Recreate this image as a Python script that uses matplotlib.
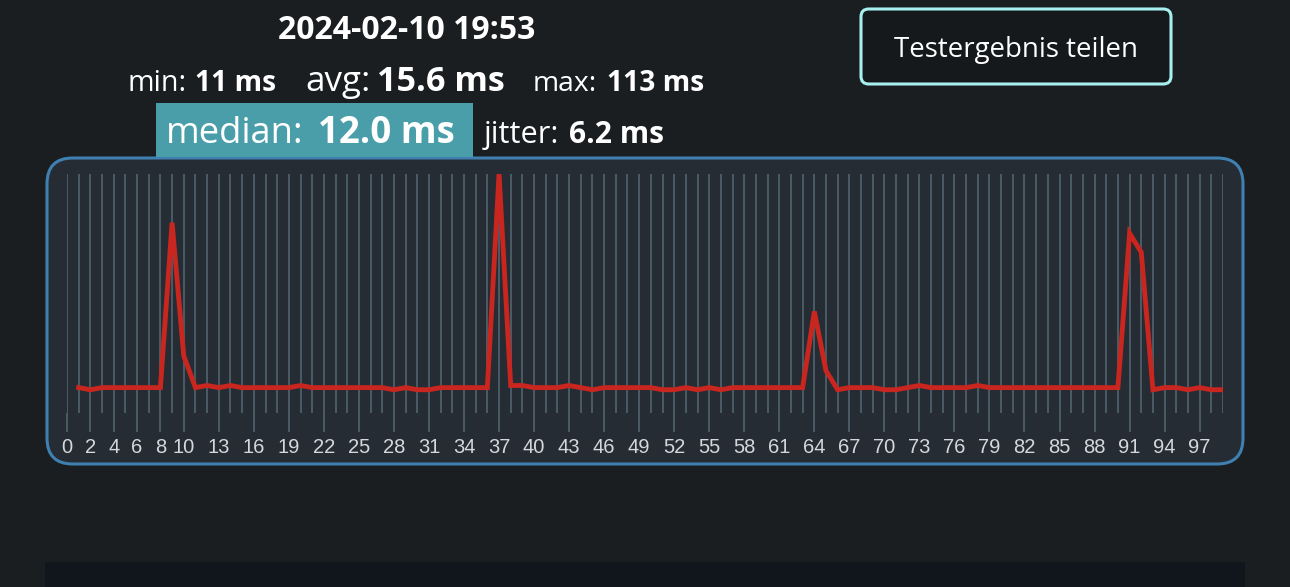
import matplotlib
matplotlib.use("Agg")
import matplotlib.pyplot as plt
from matplotlib.patches import FancyBboxPatch, Rectangle

# ---- data ----
ping_index = list(range(1, 100))
ping_ms = [12, 11, 12, 12, 12, 12, 12, 12, 90, 27,
           12, 13, 12, 13, 12, 12, 12, 12, 12, 13,
           12, 12, 12, 12, 12, 12, 12, 11, 12, 11,
           11, 12, 12, 12, 12, 12, 113, 13, 13, 12,
           12, 12, 13, 12, 11, 12, 12, 12, 12, 12,
           11, 11, 12, 11, 12, 11, 12, 12, 12, 12,
           12, 12, 12, 48, 20, 11, 12, 12, 12, 11,
           11, 12, 13, 12, 12, 12, 12, 13, 12, 12,
           12, 12, 12, 12, 12, 12, 12, 12, 12, 12,
           85, 76, 11, 12, 12, 11, 12, 11, 11]
tick_positions = [0, 2, 4, 6, 8, 10, 13, 16, 19, 22, 25, 28, 31, 34, 37, 40,
                  43, 46, 49, 52, 55, 58, 61, 64, 67, 70, 73, 76, 79, 82, 85,
                  88, 91, 94, 97]
tick_labels = [str(t) for t in tick_positions]
date_text = "2024-02-10 19:53"
stat_min, stat_avg, stat_max = "11 ms", "15.6 ms", "113 ms"
stat_median, stat_jitter = "12.0 ms", "6.2 ms"
button_text = "Testergebnis teilen"

W, H = 1290, 587
BG = "#1a1e21"
fig = plt.figure(figsize=(W / 100, H / 100), dpi=100)
fig.patch.set_facecolor(BG)
renderer = fig.canvas.get_renderer()

def px(x, y):
    return x / W, 1 - y / H

FONT = "Open Sans"

# bottom dark panel
fig.patches.append(Rectangle(px(45, 587), 1200 / W, 25 / H, transform=fig.transFigure,
                             facecolor="#10161c", edgecolor="none", zorder=-2))

# chart panel
fig.patches.append(FancyBboxPatch(px(47, 464), 1196 / W, 306 / H,
                                  boxstyle="round,pad=0,rounding_size=0.02",
                                  transform=fig.transFigure, mutation_aspect=W / H,
                                  facecolor="#252c34", edgecolor="#3f80b0",
                                  linewidth=2.2, zorder=-2))

# median box
fig.patches.append(Rectangle(px(156, 157), 317 / W, 54 / H, transform=fig.transFigure,
                             facecolor="#4a9eaa", edgecolor="none", zorder=-2))

# button
fig.patches.append(FancyBboxPatch(px(861, 84), 310 / W, 75 / H,
                                  boxstyle="round,pad=0,rounding_size=0.006",
                                  transform=fig.transFigure, mutation_aspect=W / H,
                                  facecolor="#15191c", edgecolor="#a8f0f0",
                                  linewidth=2.2, zorder=-2))


def fitted(x0, x1, y, s, bold=False, ha="left", va="baseline"):
    """Text whose rendered width spans x0..x1 pixels."""
    t = fig.text(0, 0, s, color="white", fontsize=20, family=FONT,
                 fontweight="bold" if bold else "normal", ha="left", va=va)
    w = t.get_window_extent(renderer).width
    t.set_fontsize(20 * (x1 - x0) / w)
    if ha == "center":
        t.set_ha("center")
        t.set_position(px((x0 + x1) / 2, y))
    else:
        t.set_position(px(x0, y))
    return t

fitted(895, 1138, 47, button_text, ha="center", va="center_baseline")
fitted(278, 536, 39, date_text, bold=True, ha="center")

fitted(128, 187, 91, "min:")
fitted(195, 276, 91, stat_min, bold=True)
fitted(305, 370, 91, "avg:")
fitted(377, 505, 91, stat_avg, bold=True)
fitted(533, 597, 91, "max:")
fitted(607, 704, 91, stat_max, bold=True)
fitted(166, 303, 143, "median:")
fitted(318, 455, 143, stat_median, bold=True)
fitted(484, 559, 143, "jitter:")
fitted(569, 664, 143, stat_jitter, bold=True)

# axes: x 0..99 spans px 67..1223 ; y 0..113 spans px 413..174
ax = fig.add_axes([67 / W, 1 - 413 / H, (1223 - 67) / W, (413 - 174) / H])
ax.set_zorder(1)
ax.set_facecolor("none")
ax.set_xlim(0, 99)
ax.set_ylim(0, 113)
for s in ax.spines.values():
    s.set_visible(False)
ax.set_yticks([])
ax.set_xticks(tick_positions)
ax.set_xticklabels(tick_labels, color="#d4d8dc", fontsize=14.5, family="Liberation Sans")
ax.set_xticks(range(0, 100), minor=True)
ax.tick_params(axis="x", which="major", length=13.7, width=1.3, color="#4f5f6b", pad=4.5)
ax.tick_params(axis="x", which="minor", length=0)
ax.grid(True, axis="x", which="both", color="#4f5f6b", linewidth=1.3)
ax.set_axisbelow(True)

ax.plot(ping_index, ping_ms, color="#c8261e", linewidth=3.5, solid_joinstyle="miter", zorder=3)

fig.savefig("out.png", dpi=100, facecolor=BG)
